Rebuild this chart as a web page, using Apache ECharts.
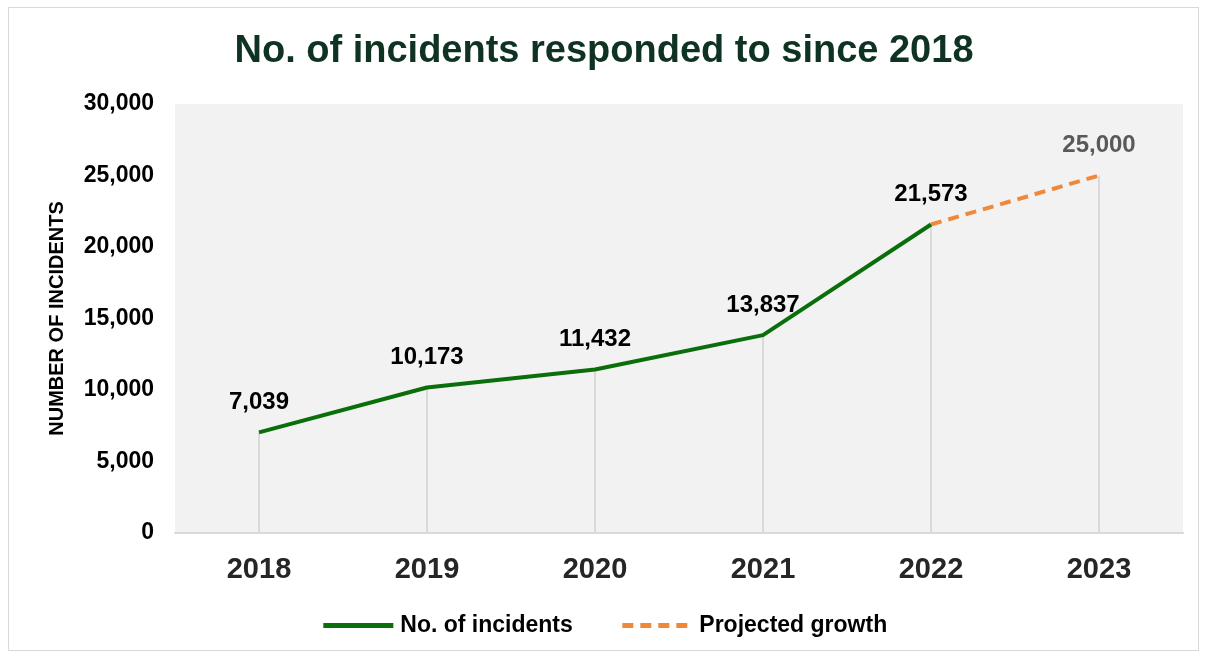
<!DOCTYPE html>
<html>
<head>
<meta charset="utf-8">
<script src="https://cdn.jsdelivr.net/npm/echarts@6/dist/echarts.min.js"></script>
<style>
  html, body { margin: 0; padding: 0; background: #fff; }
  #frame { position: absolute; left: 8px; top: 7px; width: 1191px; height: 644px; border: 1px solid #d9d9d9; box-sizing: border-box; }
  #chart { position: absolute; left: 0; top: 0; width: 1208px; height: 654px; }
</style>
</head>
<body>
<div id="frame"></div>
<div id="chart"></div>
<script>
// 年份
var years = ['2018', '2019', '2020', '2021', '2022', '2023']
// 已响应的事件数
var incidents = [7039, 10173, 11432, 13837, 21573, null]
// 预测增长
var projected = [null, null, null, null, 21573, 25000]
// y 轴刻度
var yMin = 0, yMax = 30000, yStep = 5000

var font = '"Liberation Sans", Arial, sans-serif'
var fmt = function (v) { return Number(v).toLocaleString('en-US') }

// 每个点到 x 轴的垂线
var drops = years.map(function (y, i) {
  return incidents[i] != null ? incidents[i] : projected[i]
})

var chart = echarts.init(document.getElementById('chart'))
var option = {
  animation: false,
  textStyle: { fontFamily: font },
  title: {
    text: 'No. of incidents responded to since 2018',
    left: 'center',
    top: 28,
    textStyle: { fontFamily: font, fontSize: 38, fontWeight: 'bold', color: '#0f3322' }
  },
  legend: {
    data: ['No. of incidents', 'Projected growth'],
    top: 609,
    left: 'center',
    itemWidth: 70,
    itemHeight: 14,
    itemGap: 47,
    itemStyle: { opacity: 0 },
    lineStyle: { width: 5 },
    textStyle: { fontFamily: font, fontSize: 23, fontWeight: 'bold', color: '#000', padding: [0, 0, 0, 2] }
  },
  grid: {
    left: 175, right: 25, top: 104, bottom: 121,
    show: true, backgroundColor: '#f2f2f2', borderWidth: 0
  },
  xAxis: {
    type: 'category',
    data: years,
    boundaryGap: true,
    axisLine: { lineStyle: { color: '#d9d9d9', width: 2 } },
    axisTick: { show: false },
    axisLabel: { margin: 22, fontFamily: font, fontSize: 29, fontWeight: 'bold', color: '#262626' }
  },
  yAxis: {
    type: 'value',
    min: yMin, max: yMax, interval: yStep,
    name: 'NUMBER OF INCIDENTS',
    nameLocation: 'middle',
    nameGap: 108,
    nameTextStyle: { fontFamily: font, fontSize: 20, fontWeight: 'bold', color: '#000' },
    axisLine: { show: false },
    axisTick: { show: false },
    splitLine: { show: false },
    axisLabel: { margin: 21, fontFamily: font, fontSize: 23, fontWeight: 'bold', color: '#000', formatter: fmt }
  },
  series: [
    {
      name: 'drops',
      type: 'bar',
      data: drops,
      barWidth: 2,
      silent: true,
      itemStyle: { color: '#d9d9d9' },
      z: 1
    },
    {
      name: 'No. of incidents',
      type: 'line',
      data: incidents,
      symbol: 'circle',
      symbolSize: 0,
      lineStyle: { color: '#0a6e0a', width: 4 },
      itemStyle: { color: '#0a6e0a' },
      label: {
        show: true, position: 'top', distance: 18,
        fontFamily: font, fontSize: 24, fontWeight: 'bold', color: '#000',
        formatter: function (p) { return fmt(p.value) }
      },
      z: 3
    },
    {
      name: 'Projected growth',
      type: 'line',
      data: projected,
      symbol: 'circle',
      symbolSize: 0,
      lineStyle: { color: '#f0883a', width: 4, type: [11, 7] },
      itemStyle: { color: '#f0883a' },
      label: {
        show: true, position: 'top', distance: 18,
        fontFamily: font, fontSize: 24, fontWeight: 'bold', color: '#595959',
        formatter: function (p) { return p.dataIndex === 5 ? fmt(p.value) : '' }
      },
      z: 2
    }
  ]
}
chart.setOption(option)
</script>
</body>
</html>
